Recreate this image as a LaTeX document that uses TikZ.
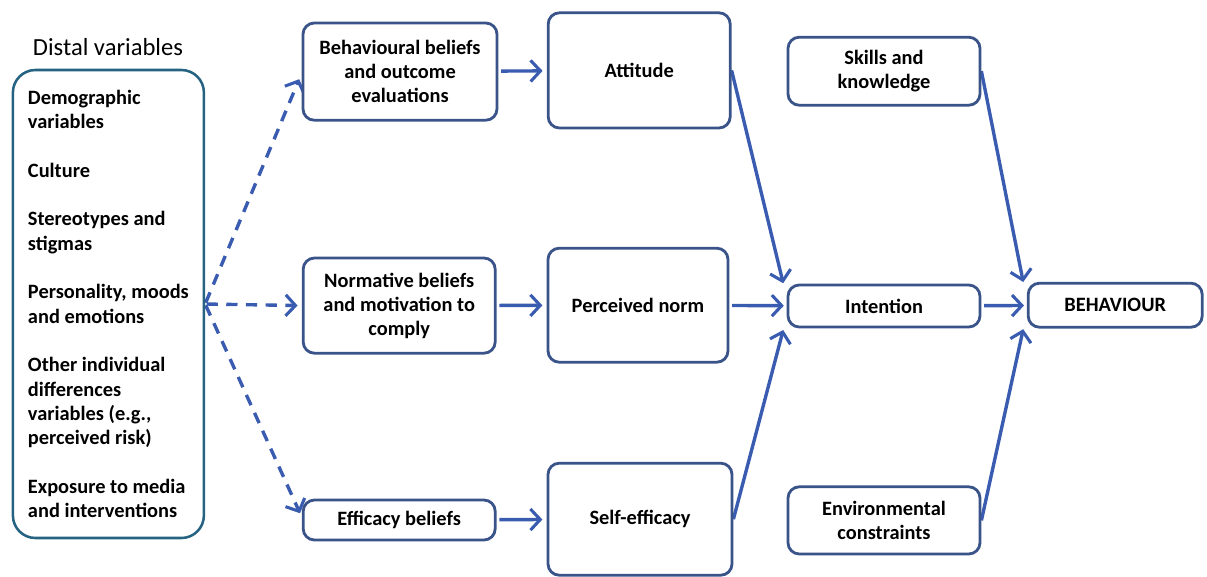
\documentclass[tikz,border=0pt]{standalone}
\usepackage{fontspec}
\setmainfont{Carlito}
\usetikzlibrary{backgrounds,arrows.meta}
\pgfdeclarelayer{edgelayer}
\pgfdeclarelayer{nodelayer}
\pgfsetlayers{edgelayer,nodelayer,main}
\definecolor{boxblue}{RGB}{58,84,138}
\definecolor{distalteal}{RGB}{38,98,130}
\definecolor{flowblue}{RGB}{58,92,176}
\tikzset{font=\fontsize{14.5}{17}\selectfont\bfseries}
\tikzstyle{none}=[inner sep=0pt]
\tikzstyle{heading}=[inner sep=0pt,font=\fontsize{17.5}{20}\selectfont]
\tikzstyle{box}=[draw=boxblue,line width=2pt,rounded corners=8pt,fill=white,align=center,inner sep=2pt]
\tikzstyle{distal}=[draw=distalteal,line width=1.8pt,rounded corners=16pt,fill=white,align=left,inner sep=0pt,font=\fontsize{14.5}{17.3}\selectfont\bfseries]
\tikzstyle{flow}=[draw=flowblue,line width=2.4pt,-{Straight Barb[length=7pt,width=15pt,line width=2.2pt]}]
\tikzstyle{dashflow}=[flow,dash pattern=on 8pt off 6pt]

\begin{document}
\begin{tikzpicture}
	\useasboundingbox (0,0) rectangle (30.175,-14.4);
	\begin{pgfonlayer}{nodelayer}
		\node [style=heading] (t) at (2.7, -1.18) {Distal variables};
		\node [style=distal, minimum width=4.775cm, minimum height=11.7cm] (0) at (2.71, -7.6) {Demographic\\variables\\[17.3pt]Culture\\[17.3pt]Stereotypes and\\stigmas\\[17.3pt]Personality, moods\\and emotions\\[17.3pt]Other individual\\differences\\variables (e.g.,\\perceived risk)\\[17.3pt]Exposure to media\\and interventions};
		\node [style=box, minimum width=4.85cm, minimum height=2.43cm] (1) at (10, -1.79) {Behavioural beliefs\\and outcome\\evaluations};
		\node [style=box, minimum width=4.8cm, minimum height=2.38cm] (2) at (9.98, -7.64) {Normative beliefs\\and motivation to\\comply};
		\node [style=box, minimum width=4.8cm, minimum height=1cm] (3) at (9.98, -13) {Efficacy beliefs};
		\node [style=box, minimum width=4.55cm, minimum height=2.88cm] (4) at (15.98, -1.76) {Attitude};
		\node [style=box, minimum width=4.5cm, minimum height=2.85cm] (5) at (15.95, -7.63) {Perceived norm};
		\node [style=box, minimum width=4.6cm, minimum height=2.8cm] (6) at (16, -12.98) {Self-efficacy};
		\node [style=box, minimum width=4.8cm, minimum height=1.7cm] (7) at (22.1, -1.78) {Skills and\\knowledge};
		\node [style=box, minimum width=4.8cm, minimum height=1.05cm] (8) at (22.1, -7.65) {Intention};
		\node [style=box, minimum width=4.8cm, minimum height=1.68cm] (9) at (22.1, -13.01) {Environmental\\constraints};
		\node [style=box, minimum width=4.35cm, minimum height=1.1cm] (10) at (27.88, -7.63) {BEHAVIOUR};
		\node [style=none] (11) at (19.58, -7.08) {};
		\node [style=none] (12) at (19.58, -8.25) {};
		\node [style=none] (13) at (25.58, -7.05) {};
		\node [style=none] (14) at (25.58, -8.23) {};
		\node [style=none] (15) at (7.48, -1.98) {};
		\node [style=none] (16) at (7.5, -12.83) {};
	\end{pgfonlayer}
	\begin{pgfonlayer}{edgelayer}
		\draw [style=dashflow, shorten <=1pt] (0.east) to (15.center);
		\draw [style=dashflow, shorten <=1pt, shorten >=3pt] (0.east) to (2.west);
		\draw [style=dashflow, shorten <=1pt] (0.east) to (16.center);
		\draw [style=flow, shorten <=2pt, shorten >=3pt] (1) to (4);
		\draw [style=flow, shorten <=2pt, shorten >=3pt] (2) to (5);
		\draw [style=flow, shorten <=2pt, shorten >=3pt] (3) to (6);
		\draw [style=flow] (4.east) to (11.center);
		\draw [style=flow, shorten <=2pt, shorten >=2pt] (5) to (8);
		\draw [style=flow] (6.east) to (12.center);
		\draw [style=flow] (7.east) to (13.center);
		\draw [style=flow, shorten <=2pt, shorten >=2pt] (8) to (10);
		\draw [style=flow] (9.east) to (14.center);
	\end{pgfonlayer}
\end{tikzpicture}
\end{document}
